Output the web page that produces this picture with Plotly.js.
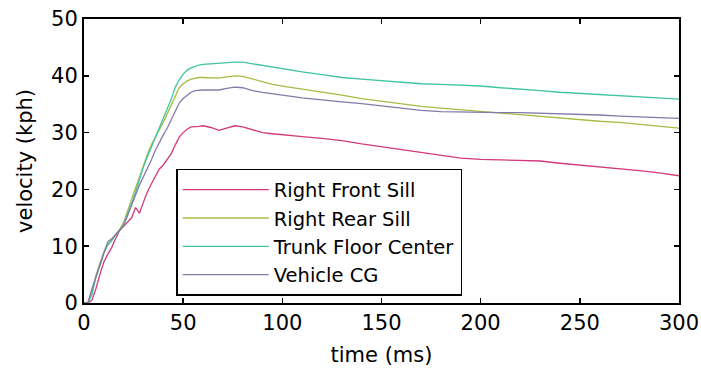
<!DOCTYPE html>
<html>
<head>
<meta charset="utf-8">
<script src="https://cdn.plot.ly/plotly-3.0.1.min.js"></script>
<style>html,body{margin:0;padding:0;background:#fff;}#chart{width:701px;height:370px;}</style>
</head>
<body>
<div id="chart"></div>
<script>
// time in ms
const timeMs = [0,2,4,6,8,10,12,14,16,18,20,22,24,26,28,30,32,34,36,38,40,42,44,46,48,50,52,54,56,58,60,64,68,72,76,80,85,90,95,100,110,120,130,140,150,160,170,180,190,200,210,220,230,240,250,260,270,280,290,300];

const seriesNames = ["Right Front Sill", "Right Rear Sill", "Trunk Floor Center", "Vehicle CG"];

const rightFrontSill = [0,0,0.5,2.5,5.0,7.2,8.6,9.8,11.4,12.8,13.5,14.2,15.0,16.8,15.8,17.8,19.6,21.0,22.4,23.6,24.3,25.3,26.3,27.8,29.2,30.0,30.6,31.0,31.0,31.1,31.2,30.9,30.4,30.8,31.2,31.0,30.5,30.0,29.8,29.6,29.3,29.0,28.6,28.0,27.5,26.9,26.4,25.9,25.5,25.3,25.2,25.1,25.0,24.6,24.3,24.0,23.7,23.3,22.9,22.4];

const rightRearSill = [0,0.2,2.0,4.8,7.0,9.0,10.3,11.2,12.0,13.0,14.2,16.3,18.5,20.3,22.2,24.3,26.2,27.9,29.3,30.5,31.8,33.3,35.0,36.6,37.9,38.6,39.1,39.4,39.6,39.7,39.7,39.6,39.6,39.8,40.0,39.9,39.4,38.9,38.5,38.2,37.7,37.2,36.6,36.0,35.5,35.0,34.6,34.3,34.0,33.7,33.4,33.1,32.8,32.5,32.3,32.0,31.8,31.5,31.1,30.8];

const trunkFloorCenter = [0,0,1.5,4.5,6.5,8.8,10.2,11.0,12.0,12.8,13.8,15.5,17.5,19.5,21.8,24.0,25.8,27.5,29.3,30.8,32.5,34.2,35.9,38.0,39.3,40.3,41.0,41.4,41.7,41.9,42.0,42.1,42.3,42.4,42.4,42.4,42.1,41.8,41.5,41.2,40.7,40.2,39.7,39.4,39.1,38.8,38.6,38.5,38.4,38.2,37.9,37.7,37.4,37.1,36.9,36.7,36.6,36.3,36.1,35.9];

const vehicleCG = [0,0,2.5,4.6,7.0,9.0,10.8,11.3,12.0,12.8,13.6,15.3,17.3,19.0,20.8,22.2,23.7,25.2,26.9,28.4,29.6,30.8,32.3,34.0,35.2,36.0,36.6,37.1,37.4,37.5,37.5,37.5,37.5,37.8,38.0,37.9,37.4,37.1,36.8,36.6,36.1,35.7,35.4,35.1,34.7,34.3,33.9,33.7,33.6,33.5,33.5,33.5,33.4,33.4,33.3,33.1,32.9,32.8,32.6,32.5];

const xTicks = [0,50,100,150,200,250,300];
const yTicks = [0,10,20,30,40,50];

const allSeries = [rightFrontSill, rightRearSill, trunkFloorCenter, vehicleCG];
const colors = ["#d23a7c", "#a6bc45", "#3fc4a2", "#8878a8"];

const FONT = "DejaVu Sans, Liberation Sans, Arial, sans-serif";

const traces = allSeries.map((vals, i) => ({
  x: timeMs,
  y: vals,
  type: "scatter",
  mode: "lines",
  name: seriesNames[i],
  line: {color: colors[i], width: 1.3}
}));

const axisBase = {
  showline: true,
  linecolor: "#000",
  linewidth: 2,
  mirror: "ticks",
  ticks: "inside",
  ticklen: 5,
  tickwidth: 1.5,
  tickcolor: "#000",
  showgrid: false,
  zeroline: false,
  tickfont: {family: FONT, size: 21, color: "#000"}
};

const layout = {
  width: 701,
  height: 370,
  margin: {l: 84, r: 22, t: 19, b: 67},
  paper_bgcolor: "#fff",
  plot_bgcolor: "#fff",
  font: {family: FONT, color: "#000"},
  xaxis: Object.assign({}, axisBase, {
    range: [0, 300],
    tickvals: xTicks,
    ticktext: xTicks.map(String),
    title: {text: "time (ms)", font: {family: FONT, size: 21, color: "#000"}, standoff: 13}
  }),
  yaxis: Object.assign({}, axisBase, {
    range: [0, 50],
    tickvals: yTicks,
    ticktext: yTicks.map(String),
    title: {text: "velocity (kph)", font: {family: FONT, size: 21, color: "#000"}, standoff: 13}
  }),
  showlegend: true,
  legend: {
    x: 0.155,
    y: 0.472,
    xanchor: "left",
    yanchor: "top",
    bgcolor: "#fff",
    bordercolor: "#000",
    borderwidth: 1.5,
    font: {family: FONT, size: 19.5, color: "#000"},
    tracegroupgap: 0,
    itemwidth: 86
  }
};

Plotly.newPlot("chart", traces, layout, {displayModeBar: false, staticPlot: true});
</script>
</body>
</html>
